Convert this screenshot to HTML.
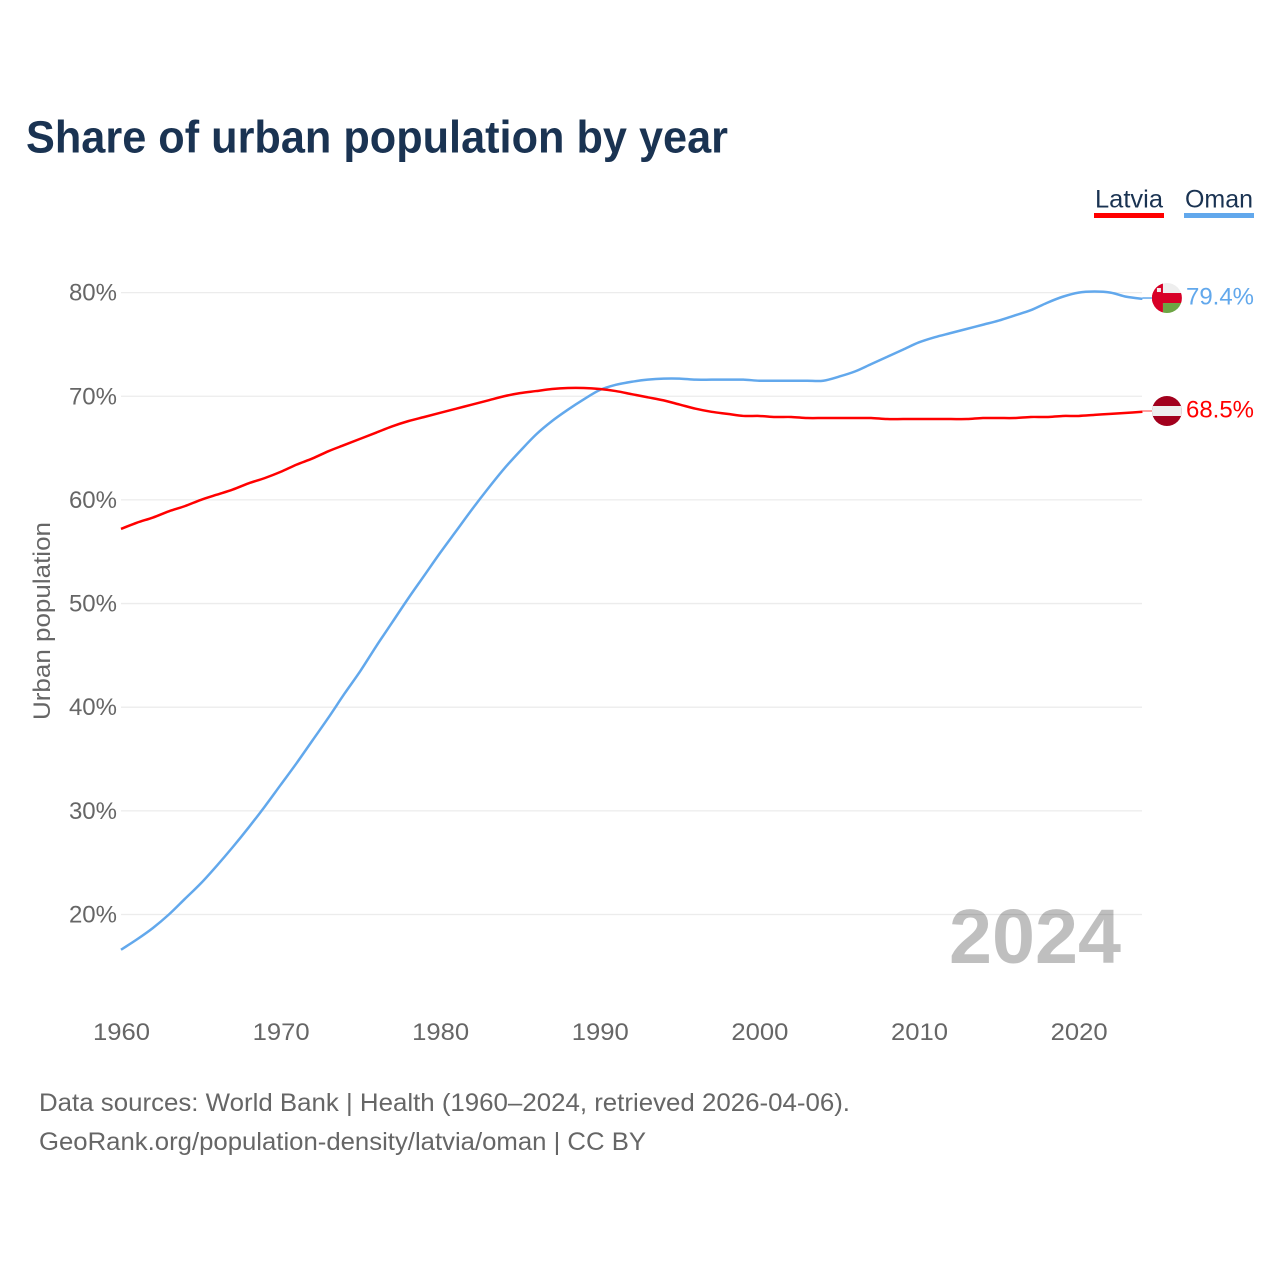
<!DOCTYPE html>
<html lang="en">
<head>
<meta charset="utf-8">
<title>Share of urban population by year</title>
<style>
html,body{margin:0;padding:0;background:#fff;width:1280px;height:1280px;overflow:hidden}
svg{display:block}
text{font-family:"Liberation Sans",sans-serif}
</style>
</head>
<body>
<svg id="chart" width="1280" height="1280" viewBox="0 0 1280 1280" xmlns="http://www.w3.org/2000/svg">
  <defs>
    <clipPath id="clip-oman"><circle id="clip-oman-circle" r="15"/></clipPath>
    <clipPath id="clip-latvia"><circle id="clip-latvia-circle" r="15"/></clipPath>
  </defs>
  <rect width="1280" height="1280" fill="#ffffff"/>
  <text x="26" y="152.5" font-size="45" font-weight="700" fill="#1a3352" textLength="702" lengthAdjust="spacingAndGlyphs">Share of urban population by year</text>

  <text x="1095" y="207.5" font-size="25" fill="#1a3352" textLength="68" lengthAdjust="spacingAndGlyphs">Latvia</text>
  <rect x="1094" y="213" width="70" height="5" fill="#ff0000"/>
  <text x="1185" y="207.5" font-size="25" fill="#1a3352" textLength="68" lengthAdjust="spacingAndGlyphs">Oman</text>
  <rect x="1184" y="213" width="70" height="5" fill="#62a8ec"/>

  <g id="grid"></g>
  <g id="yticks"></g>
  <g id="xticks"></g>
  <text transform="translate(50,621) rotate(-90)" text-anchor="middle" font-size="24" fill="#666666" textLength="198" lengthAdjust="spacingAndGlyphs">Urban population</text>

  <text x="1035" y="963" text-anchor="middle" font-size="77" font-weight="700" fill="#000000" fill-opacity="0.25" textLength="172" lengthAdjust="spacingAndGlyphs">2024</text>

  <g id="series"></g>

  <g id="flag-oman" clip-path="url(#clip-oman)"></g>
  <g id="flag-latvia" clip-path="url(#clip-latvia)"></g>
  <g id="end-labels"></g>

  <text x="39" y="1111" font-size="25" fill="#666666" textLength="811" lengthAdjust="spacingAndGlyphs">Data sources: World Bank | Health (1960–2024, retrieved 2026-04-06).</text>
  <text x="39" y="1150" font-size="25" fill="#666666" textLength="607" lengthAdjust="spacingAndGlyphs">GeoRank.org/population-density/latvia/oman | CC BY</text>
</svg>
<script>
const startYear = 1960;
const xTickYears = [1960, 1970, 1980, 1990, 2000, 2010, 2020];
const yTickValues = [20, 30, 40, 50, 60, 70, 80];
const latviaValues = [57.2, 57.8, 58.3, 58.9, 59.4, 60.0, 60.5, 61.0, 61.6, 62.1, 62.7, 63.4, 64.0, 64.7, 65.3, 65.9, 66.5, 67.1, 67.6, 68.0, 68.4, 68.8, 69.2, 69.6, 70.0, 70.3, 70.5, 70.7, 70.8, 70.8, 70.7, 70.5, 70.2, 69.9, 69.6, 69.2, 68.8, 68.5, 68.3, 68.1, 68.1, 68.0, 68.0, 67.9, 67.9, 67.9, 67.9, 67.9, 67.8, 67.8, 67.8, 67.8, 67.8, 67.8, 67.9, 67.9, 67.9, 68.0, 68.0, 68.1, 68.1, 68.2, 68.3, 68.4, 68.5];
const omanValues = [16.6, 17.6, 18.7, 20.0, 21.5, 23.0, 24.7, 26.5, 28.4, 30.4, 32.5, 34.6, 36.8, 39.0, 41.3, 43.5, 45.9, 48.2, 50.5, 52.7, 54.9, 57.0, 59.1, 61.1, 63.0, 64.7, 66.3, 67.6, 68.7, 69.7, 70.6, 71.1, 71.4, 71.6, 71.7, 71.7, 71.6, 71.6, 71.6, 71.6, 71.5, 71.5, 71.5, 71.5, 71.5, 71.9, 72.4, 73.1, 73.8, 74.5, 75.2, 75.7, 76.1, 76.5, 76.9, 77.3, 77.8, 78.3, 79.0, 79.6, 80.0, 80.1, 80.0, 79.6, 79.4];

const NS = 'http://www.w3.org/2000/svg';
function xScale(year) { return 121 + (year - 1960) * 15.96; }
function yScale(value) { return 914.5 - (value - 20) * 10.365; }

const grid = document.getElementById('grid');
const yticks = document.getElementById('yticks');
const xticks = document.getElementById('xticks');
const series = document.getElementById('series');
const endLabels = document.getElementById('end-labels');

yTickValues.forEach(function (v) {
  const line = document.createElementNS(NS, 'line');
  
  
  line.setAttribute('x1', 121);
  line.setAttribute('x2', 1142);
  line.setAttribute('y1', yScale(v));
  line.setAttribute('y2', yScale(v));
  line.setAttribute('stroke', '#ececec');
  line.setAttribute('stroke-width', '1.3');
  grid.appendChild(line);

  const t = document.createElementNS(NS, 'text');
  
  
  t.setAttribute('x', 117);
  t.setAttribute('y', yScale(v) + 8);
  t.setAttribute('text-anchor', 'end');
  t.setAttribute('font-size', '24');
  t.setAttribute('fill', '#666666');
  t.textContent = v + '%';
  yticks.appendChild(t);
});

xTickYears.forEach(function (y) {
  const t = document.createElementNS(NS, 'text');
  
  
  t.setAttribute('x', xScale(y) + 0.5);
  t.setAttribute('y', 1040);
  t.setAttribute('text-anchor', 'middle');
  t.setAttribute('font-size', '24');
  t.setAttribute('fill', '#666666');
  t.setAttribute('textLength', '57');
  t.setAttribute('lengthAdjust', 'spacingAndGlyphs');
  t.textContent = String(y);
  xticks.appendChild(t);
});

function pathFor(values) {
  const pts = values.map(function (v, i) {
    return [xScale(startYear + i), yScale(v)];
  });
  let d = 'M' + pts[0][0].toFixed(2) + ' ' + pts[0][1].toFixed(2);
  for (let i = 0; i < pts.length - 1; i++) {
    const p0 = pts[Math.max(i - 1, 0)];
    const p1 = pts[i];
    const p2 = pts[i + 1];
    const p3 = pts[Math.min(i + 2, pts.length - 1)];
    const c1x = p1[0] + (p2[0] - p0[0]) / 6;
    const c1y = p1[1] + (p2[1] - p0[1]) / 6;
    const c2x = p2[0] - (p3[0] - p1[0]) / 6;
    const c2y = p2[1] - (p3[1] - p1[1]) / 6;
    d += 'C' + c1x.toFixed(2) + ' ' + c1y.toFixed(2) + ' ' + c2x.toFixed(2) + ' ' + c2y.toFixed(2) + ' ' + p2[0].toFixed(2) + ' ' + p2[1].toFixed(2);
  }
  return d;
}

const omanLine = document.createElementNS(NS, 'path');


omanLine.setAttribute('d', pathFor(omanValues));
omanLine.setAttribute('fill', 'none');
omanLine.setAttribute('stroke', '#62a8ec');
omanLine.setAttribute('stroke-width', '2.5');
omanLine.setAttribute('stroke-linejoin', 'round');
series.appendChild(omanLine);

const latviaLine = document.createElementNS(NS, 'path');


latviaLine.setAttribute('d', pathFor(latviaValues));
latviaLine.setAttribute('fill', 'none');
latviaLine.setAttribute('stroke', '#ff0000');
latviaLine.setAttribute('stroke-width', '2.5');
latviaLine.setAttribute('stroke-linejoin', 'round');
series.appendChild(latviaLine);

const lastYear = startYear + latviaValues.length - 1;
const lastX = xScale(lastYear);
const flagX = lastX + 24.5;
const omanLast = omanValues[omanValues.length - 1];
const latviaLast = latviaValues[latviaValues.length - 1];
const omanY = yScale(omanLast) - 0.8;
const latviaY = yScale(latviaLast) - 0.8;

const omanConn = document.createElementNS(NS, 'line');


omanConn.setAttribute('x1', lastX);
omanConn.setAttribute('x2', flagX - 14);
omanConn.setAttribute('y1', omanY);
omanConn.setAttribute('y2', omanY);
omanConn.setAttribute('stroke', '#62a8ec');
omanConn.setAttribute('stroke-width', '1.5');
series.appendChild(omanConn);

const latviaConn = document.createElementNS(NS, 'line');


latviaConn.setAttribute('x1', lastX);
latviaConn.setAttribute('x2', flagX - 14);
latviaConn.setAttribute('y1', latviaY);
latviaConn.setAttribute('y2', latviaY);
latviaConn.setAttribute('stroke', '#ff8080');
latviaConn.setAttribute('stroke-width', '1.5');
series.appendChild(latviaConn);

document.getElementById('clip-oman-circle').setAttribute('cx', flagX);
document.getElementById('clip-oman-circle').setAttribute('cy', omanY);
document.getElementById('clip-latvia-circle').setAttribute('cx', flagX);
document.getElementById('clip-latvia-circle').setAttribute('cy', latviaY);

const flagOman = document.getElementById('flag-oman');
flagOman.innerHTML =
  '<rect x="' + (flagX - 15) + '" y="' + (omanY - 15) + '" width="30" height="30" fill="#eeeeee"/>' +
  '<rect x="' + (flagX - 15) + '" y="' + (omanY - 5) + '" width="30" height="10" fill="#d80027"/>' +
  '<rect x="' + (flagX - 4) + '" y="' + (omanY + 5) + '" width="19" height="10" fill="#6da544"/>' +
  '<rect x="' + (flagX - 15) + '" y="' + (omanY - 15) + '" width="11" height="30" fill="#d80027"/>' +
  '<rect x="' + (flagX - 10) + '" y="' + (omanY - 10) + '" width="4" height="4" fill="#eeeeee"/>';

const flagLatvia = document.getElementById('flag-latvia');
flagLatvia.innerHTML =
  '<rect x="' + (flagX - 15) + '" y="' + (latviaY - 15) + '" width="30" height="30" fill="#a2001d"/>' +
  '<rect x="' + (flagX - 15) + '" y="' + (latviaY - 5) + '" width="30" height="10" fill="#eeeeee"/>';

const omanLabel = document.createElementNS(NS, 'text');


omanLabel.setAttribute('x', 1186);
omanLabel.setAttribute('y', omanY + 6.5);
omanLabel.setAttribute('font-size', '24');
omanLabel.setAttribute('fill', '#62a8ec');
omanLabel.setAttribute('textLength', '68');
omanLabel.setAttribute('lengthAdjust', 'spacingAndGlyphs');
omanLabel.textContent = omanLast.toFixed(1) + '%';
endLabels.appendChild(omanLabel);

const latviaLabel = document.createElementNS(NS, 'text');


latviaLabel.setAttribute('x', 1186);
latviaLabel.setAttribute('y', latviaY + 6.5);
latviaLabel.setAttribute('font-size', '24');
latviaLabel.setAttribute('fill', '#ff0000');
latviaLabel.setAttribute('textLength', '68');
latviaLabel.setAttribute('lengthAdjust', 'spacingAndGlyphs');
latviaLabel.textContent = latviaLast.toFixed(1) + '%';
endLabels.appendChild(latviaLabel);
</script>
</body>
</html>
